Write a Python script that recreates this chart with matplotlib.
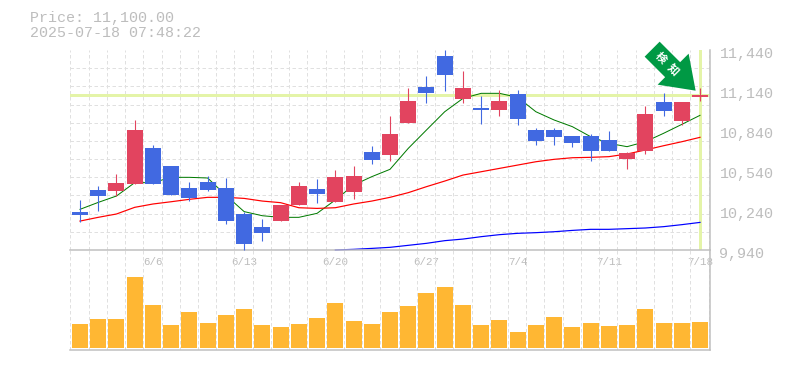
import numpy as np
import matplotlib
matplotlib.use("Agg")
import matplotlib.pyplot as plt
from matplotlib.patches import Polygon
from matplotlib.transforms import Affine2D, ScaledTranslation

opens = [10225, 10390, 10382, 10435, 10705, 10570, 10405, 10450, 10405, 10210, 10112, 10157,
         10277, 10397, 10300, 10375, 10675, 10652, 10892, 11162, 11395, 11072, 11005, 10990,
         11110, 10840, 10840, 10795, 10795, 10765, 10622, 10682, 11050, 10907, 11087]
highs = [10315, 10420, 10510, 10915, 10727, 10570, 10450, 10495, 10480, 10225, 10172, 10277,
         10450, 10472, 10540, 10570, 10720, 10945, 11155, 11245, 11440, 11282, 11095, 11140,
         11140, 10855, 10855, 10795, 10810, 10832, 10675, 11020, 11117, 11050, 11155]
lows = [10150, 10232, 10345, 10435, 10435, 10352, 10307, 10382, 10135, 9940, 10007, 10157,
        10277, 10292, 10300, 10322, 10585, 10607, 10892, 11042, 11132, 11042, 10885, 10945,
        10877, 10727, 10727, 10712, 10607, 10682, 10547, 10660, 10945, 10877, 11057]
closes = [10200, 10345, 10442, 10840, 10435, 10352, 10330, 10390, 10157, 9985, 10067, 10277,
          10420, 10360, 10487, 10495, 10615, 10810, 11057, 11117, 11252, 11155, 10990, 11057,
          10922, 10757, 10787, 10742, 10682, 10682, 10667, 10960, 10982, 11050, 11102]
ma_short = [10245, 10297, 10345, 10445, 10445, 10485, 10485, 10480, 10350, 10228, 10197, 10185,
            10185, 10215, 10315, 10427, 10490, 10545, 10702, 10840, 10977, 11077, 11115, 11115,
            11085, 10977, 10915, 10865, 10790, 10740, 10715, 10752, 10815, 10882, 10950]
ma_mid = [10157, 10185, 10210, 10260, 10285, 10302, 10320, 10335, 10335, 10327, 10307, 10295,
          10257, 10252, 10257, 10285, 10307, 10335, 10370, 10415, 10457, 10502, 10527, 10552,
          10577, 10602, 10620, 10632, 10635, 10640, 10660, 10690, 10722, 10752, 10785]
ma_long = [9940, 9945, 9952, 9960, 9975, 9990, 10010, 10022, 10040, 10055, 10065, 10070, 10077,
           10087, 10095, 10095, 10100, 10105, 10115, 10130, 10147]
volume = [72, 87, 87, 213, 129, 69, 108, 75, 99, 117, 69, 63, 72, 90, 135, 81, 72, 108,
          126, 165, 183, 129, 69, 84, 48, 69, 93, 63, 75, 66, 69, 117, 75, 75, 78]
date_pos = [4, 9, 14, 19, 24, 29, 34]
date_labels = ["6/6", "6/13", "6/20", "6/27", "7/4", "7/11", "7/18"]
price_ticks = [9940, 10240, 10540, 10840, 11140, 11440]
price_labels = ["9,940", "10,240", "10,540", "10,840", "11,140", "11,440"]
last_price = 11100

W, H = 785, 370
FONT = "Liberation Mono"
GRAY = "#bdbdbd"
GRID = "#e0e0e0"
UP = "#e2445f"
DOWN = "#4169e1"
MARK = "#e4f4a8"
px = 72 / 100  # points per pixel

fig = plt.figure(figsize=(W / 100, H / 100), dpi=100)
ax = fig.add_axes([70 / W, 1 - 250 / H, 640 / W, 200 / H])
vax = fig.add_axes([70 / W, 1 - 350 / H, 640 / W, 100 / H], sharex=ax)
vax.patch.set_visible(False)

ax.set_xlim(-0.548, 34.548)
ax.set_ylim(9940, 11440)
vax.set_ylim(-6, 294)

grid_x = np.append(np.arange(35) - 0.53, 34.47)
grid_y = np.linspace(9940, 11440, 12)

for a in (ax, vax):
    a.set_axisbelow(True)
    a.set_xticks(grid_x, minor=True)
    a.tick_params(which="both", length=0)
    a.grid(True, which="minor", axis="x", color=GRID, lw=1 * px, ls=(0, (3.5, 2.5)))
    for side in a.spines:
        a.spines[side].set_visible(False)
    for side in ("right", "bottom"):
        a.spines[side].set_visible(True)
        a.spines[side].set_color("#bfbfbf")
        a.spines[side].set_linewidth(1.5 * px)

ax.set_yticks(grid_y, minor=True)
ax.grid(True, which="minor", axis="y", color=GRID, lw=1 * px, ls=(0, (3.5, 2.5)))

# price labels sit to the right of the panel
ax.yaxis.tick_right()
ax.set_yticks(price_ticks, price_labels)
ax.tick_params(axis="y", which="major", length=0, pad=9.5 * px, labelsize=10.8,
               labelcolor=GRAY, labelfontfamily=FONT)
shift = ScaledTranslation(0, -2.7 / 100, fig.dpi_scale_trans)
for lab in ax.get_yticklabels():
    lab.set_transform(lab.get_transform() + shift)

ax.set_xticks(date_pos, date_labels)
ax.tick_params(axis="x", which="major", length=0, pad=7 * px, labelsize=7.8,
               labelcolor=GRAY, labelfontfamily=FONT)
vax.tick_params(axis="x", which="both", labelbottom=False)
vax.set_yticks([])

# last price marker lines
ax.axhline(last_price, xmax=638 / 640, color=MARK, lw=3 * px, zorder=1.5)
ax.axvline(34, ymin=0.01, color=MARK, lw=3 * px, zorder=1.5)

# moving averages go under the candles
x = np.arange(len(closes))
ax.plot(x, ma_short, color="#007a00", lw=1 * px, zorder=2)
ax.plot(x, ma_mid, color="#ff0000", lw=1.2 * px, zorder=2)
ax.plot(x[14:], ma_long, color="#0000ff", lw=1.2 * px, zorder=2, clip_on=False)

body_w = 16 / 18.235
for i in x:
    col = UP if closes[i] >= opens[i] else DOWN
    ax.vlines(i, lows[i], highs[i], color=col, lw=1.1 * px, zorder=3, clip_on=False)
    top, bot = max(opens[i], closes[i]), min(opens[i], closes[i])
    ax.bar(i, top - bot, bottom=bot, width=body_w, color=col, lw=0, zorder=3, antialiased=False)

vax.bar(x, volume, width=body_w, color="#ffb733", lw=0, zorder=3, antialiased=False)

# signal arrow, pixel offsets measured from its tip (y up)
tip = ax.transData.transform((33.76, 11135))
shape = [(-36, 49), (-51, 34), (-30.5, 13.5), (-38, 6), (0, 0), (-7, 37), (-15.5, 28.5)]
to_tip = Affine2D().translate(*tip)
ax.add_patch(Polygon(shape, closed=True, fc="#009944", ec="none", zorder=4,
                     transform=to_tip, clip_on=False))
for s, off in (("検", (-35, 33)), ("知", (-22, 21))):
    ax.text(tip[0] + off[0], tip[1] + off[1], s, transform=None, color="white", fontsize=8,
            fontweight="bold", family="Noto Sans CJK JP", rotation=-45,
            ha="center", va="center", zorder=5, clip_on=False)

fig.text(30 / W, 1 - 18 / H, "Price: 11,100.00", family=FONT, fontsize=10.8, color=GRAY, va="center")
fig.text(30 / W, 1 - 33 / H, "2025-07-18 07:48:22", family=FONT, fontsize=10.8, color=GRAY, va="center")

fig.savefig("out.png", dpi=100)
